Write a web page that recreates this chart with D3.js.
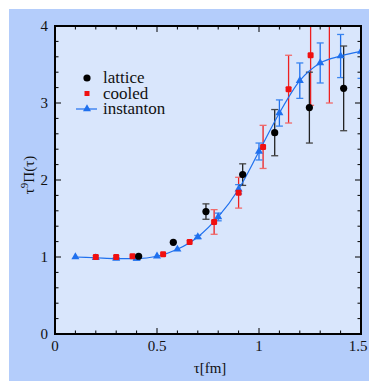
<!DOCTYPE html>
<html>
<head>
<meta charset="utf-8">
<script src="https://cdn.jsdelivr.net/npm/d3@7"></script>
<style>
  body { margin: 0; background: #fff; }
  svg text { font-family: "Liberation Serif", "Times New Roman", "DejaVu Serif", serif; fill: #111; }
</style>
</head>
<body>
<script>
// Chart data
var instantonX   = [0.1, 0.2, 0.3, 0.4, 0.5, 0.6, 0.7, 0.8, 0.9, 1.0, 1.1, 1.2, 1.3, 1.4, 1.5];
var instantonY   = [1.0, 0.99, 0.98, 0.98, 1.01, 1.10, 1.26, 1.52, 1.88, 2.37, 2.87, 3.29, 3.52, 3.61, 3.67];
var instantonErr = [0, 0, 0.01, 0.02, 0, 0, 0.02, 0.05, 0.06, 0.11, 0.17, 0.23, 0.26, 0.28, 0.35];

var latticeX   = [0.41, 0.58, 0.74, 0.92, 1.077, 1.247, 1.415];
var latticeY   = [1.01, 1.19, 1.59, 2.07, 2.615, 2.94, 3.19];
var latticeErr = [0, 0, 0.1, 0.14, 0.3, 0.46, 0.55];

var cooledX   = [0.2, 0.3, 0.38, 0.53, 0.66, 0.78, 0.90, 1.02, 1.145, 1.253, 1.345];
var cooledY   = [1.0, 1.0, 1.01, 1.035, 1.195, 1.455, 1.835, 2.43, 3.18, 3.62, 4.35];
var cooledErr = [0, 0, 0, 0, 0, 0.16, 0.2, 0.28, 0.44, 0.65, 1.35];

var xTicks = [0, 0.5, 1, 1.5];
var yTicks = [0, 1, 2, 3, 4];
var legendLabels = ["lattice", "cooled", "instanton"];

var svgWidth = 369;
var svgHeight = 381;
var margin = { top: 26, right: 8, bottom: 47, left: 55 };
var chartWidth = svgWidth - margin.left - margin.right;
var chartHeight = svgHeight - margin.top - margin.bottom;

var svg = d3.select("body").append("svg")
  .attr("width", svgWidth)
  .attr("height", svgHeight)
  .attr("font-family", "'Liberation Serif', 'Times New Roman', serif");

// outer light blue panel
svg.append("rect")
  .attr("x", 9).attr("y", 9)
  .attr("width", svgWidth - 9).attr("height", svgHeight - 9)
  .attr("fill", "#b4cdfb");

var chartGroup = svg.append("g")
  .attr("transform", `translate(${margin.left}, ${margin.top})`);

chartGroup.append("rect")
  .attr("width", chartWidth).attr("height", chartHeight)
  .attr("fill", "#d9e6fc");

var xScale = d3.scaleLinear().domain([0, 1.5]).range([0, chartWidth]);
var yScale = d3.scaleLinear().domain([0, 4]).range([chartHeight, 0]);

chartGroup.append("clipPath").attr("id", "clip")
  .append("rect").attr("width", chartWidth).attr("height", chartHeight);

var plot = chartGroup.append("g").attr("clip-path", "url(#clip)");

function zip(xs, ys, es) {
  return xs.map((x, i) => ({ x: x, y: ys[i], e: es[i] }));
}
var instanton = zip(instantonX, instantonY, instantonErr);
var lattice = zip(latticeX, latticeY, latticeErr);
var cooled = zip(cooledX, cooledY, cooledErr);

// error bars
function errorBars(data, color, capColor) {
  var g = plot.append("g");
  data.filter(d => d.e > 0).forEach(function(d) {
    var cx = xScale(d.x);
    g.append("line")
      .attr("x1", cx).attr("x2", cx)
      .attr("y1", yScale(d.y - d.e)).attr("y2", yScale(d.y + d.e))
      .attr("stroke", color).attr("stroke-width", 1.3);
    [d.y - d.e, d.y + d.e].forEach(function(v) {
      g.append("line")
        .attr("x1", cx - 3.5).attr("x2", cx + 3.5)
        .attr("y1", yScale(v)).attr("y2", yScale(v))
        .attr("stroke", capColor).attr("stroke-width", 1.3);
    });
  });
}

errorBars(cooled, "#ee2020", "#f06a6a");
errorBars(instanton, "#1f70ee", "#3a85f0");
errorBars(lattice, "#222", "#444");

// instanton curve
var line = d3.line()
  .x(d => xScale(d.x))
  .y(d => yScale(d.y))
  .curve(d3.curveMonotoneX);

plot.append("path")
  .datum(instanton)
  .attr("d", line)
  .attr("fill", "none")
  .attr("stroke", "#1f70ee")
  .attr("stroke-width", 1.2);

var tri = d3.symbol().type(d3.symbolTriangle).size(28);

plot.selectAll(".tri").data(instanton).enter()
  .append("path")
  .attr("transform", d => `translate(${xScale(d.x)}, ${yScale(d.y)})`)
  .attr("d", tri)
  .attr("fill", "#1f70ee");

plot.selectAll(".sq").data(cooled).enter()
  .append("rect")
  .attr("x", d => xScale(d.x) - 3)
  .attr("y", d => yScale(d.y) - 3)
  .attr("width", 6).attr("height", 6)
  .attr("rx", 1.2)
  .attr("fill", "#f01010");

plot.selectAll(".dot").data(lattice).enter()
  .append("circle")
  .attr("cx", d => xScale(d.x))
  .attr("cy", d => yScale(d.y))
  .attr("r", 3.6)
  .attr("fill", "#000");

// ticks (inward, on all four sides)
var xMinor = d3.range(0, 1.51, 0.1);
var yMinor = d3.range(0, 4.01, 0.2);
var ticks = chartGroup.append("g").attr("stroke", "#000").attr("stroke-width", 1);

xMinor.forEach(function(v) {
  var major = xTicks.some(t => Math.abs(t - v) < 1e-6);
  var len = major ? 6 : 3.5;
  var x = xScale(v);
  ticks.append("line").attr("x1", x).attr("x2", x).attr("y1", chartHeight).attr("y2", chartHeight - len);
  ticks.append("line").attr("x1", x).attr("x2", x).attr("y1", 0).attr("y2", len);
});
yMinor.forEach(function(v) {
  var major = yTicks.some(t => Math.abs(t - v) < 1e-6);
  var len = major ? 6 : 3.5;
  var y = yScale(v);
  ticks.append("line").attr("x1", 0).attr("x2", len).attr("y1", y).attr("y2", y);
  ticks.append("line").attr("x1", chartWidth).attr("x2", chartWidth - len).attr("y1", y).attr("y2", y);
});

// frame
chartGroup.append("rect")
  .attr("width", chartWidth).attr("height", chartHeight)
  .attr("fill", "none").attr("stroke", "#000").attr("stroke-width", 2);

// tick labels
chartGroup.selectAll(".xl").data(xTicks).enter()
  .append("text")
  .attr("x", (d, i) => xScale(d) - (i === xTicks.length - 1 ? 3 : 0))
  .attr("y", chartHeight + 17)
  .attr("text-anchor", "middle")
  .attr("font-size", 15)
  .text(d => d);

chartGroup.selectAll(".yl").data(yTicks).enter()
  .append("text")
  .attr("x", -7)
  .attr("y", d => yScale(d) + 5)
  .attr("text-anchor", "end")
  .attr("font-size", 15)
  .text(d => d);

// axis titles
chartGroup.append("text")
  .attr("x", chartWidth / 2 + 2)
  .attr("y", chartHeight + 39)
  .attr("text-anchor", "middle")
  .attr("font-size", 15)
  .text("τ[fm]");

var yTitle = chartGroup.append("text")
  .attr("transform", `translate(-21, ${chartHeight / 2 - 5}) rotate(-90)`)
  .attr("text-anchor", "middle")
  .attr("font-size", 15);
yTitle.append("tspan").text("τ");
yTitle.append("tspan").attr("dy", -6).attr("font-size", 11).text("9");
yTitle.append("tspan").attr("dy", 6).text("Π(τ)");

// legend
var legend = chartGroup.append("g");
var ly = [52, 67.5, 83];
legend.append("circle").attr("cx", 32).attr("cy", ly[0]).attr("r", 3.6).attr("fill", "#000");
legend.append("rect").attr("x", 29.5).attr("y", ly[1] - 2.5).attr("width", 5).attr("height", 5).attr("fill", "#f01010");
legend.append("line").attr("x1", 21).attr("x2", 42).attr("y1", ly[2]).attr("y2", ly[2])
  .attr("stroke", "#1f70ee").attr("stroke-width", 1.2);
legend.append("path").attr("transform", `translate(32, ${ly[2]})`).attr("d", tri).attr("fill", "#1f70ee");

legend.selectAll(".lt").data(legendLabels).enter()
  .append("text")
  .attr("x", 48)
  .attr("y", (d, i) => ly[i] + 5)
  .attr("font-size", 17)
  .text(d => d);
</script>
</body>
</html>
